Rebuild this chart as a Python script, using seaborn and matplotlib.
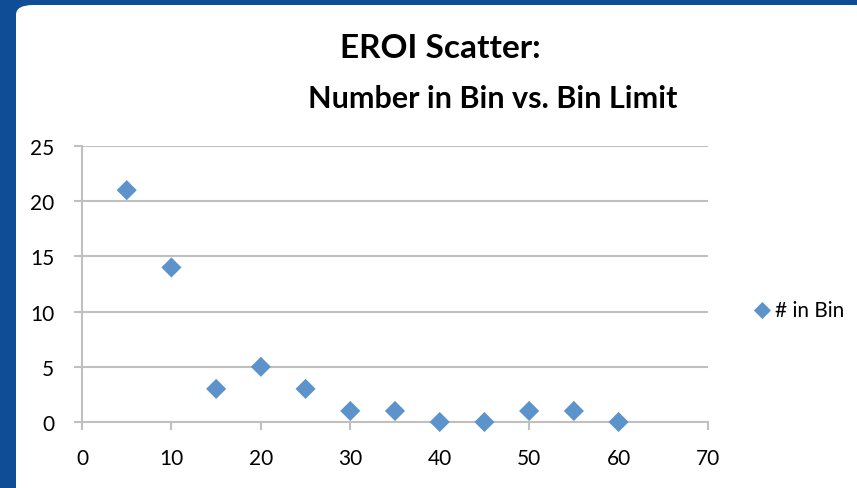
import matplotlib
matplotlib.use("Agg")
import matplotlib.pyplot as plt
import seaborn as sns
import pandas as pd
from matplotlib.patches import FancyBboxPatch

# Data
bin_limit = [5, 10, 15, 20, 25, 30, 35, 40, 45, 50, 55, 60]
num_in_bin = [21, 14, 3, 5, 3, 1, 1, 0, 0, 1, 1, 0]
x_ticks = [0, 10, 20, 30, 40, 50, 60, 70]
y_ticks = [0, 5, 10, 15, 20, 25]
series_name = "# in Bin"

df = pd.DataFrame({"Bin Limit": bin_limit, "Number": num_in_bin})

sns.set_style("white")
plt.rcParams['font.family'] = ['Lato', 'DejaVu Sans']

grid_col = "#c0c0c0"
marker_col = "#5d93cb"

fig = plt.figure(figsize=(8.57, 4.89), dpi=100, facecolor="#0f4e96")

# white chart area on top of the blue slide background
card = FancyBboxPatch((16 / 857, -0.1), 1.2, 1.1 - 6 / 489,
                      boxstyle="round,pad=0,rounding_size=0.02",
                      transform=fig.transFigure, facecolor="white",
                      edgecolor="none", zorder=-10)
fig.patches.append(card)

ax = fig.add_axes([82 / 857, 66 / 489, (708 - 82) / 857, (423 - 147) / 489])
ax.set_facecolor("none")
ax.set_zorder(5)

sns.scatterplot(data=df, x="Bin Limit", y="Number", ax=ax, marker="D",
                s=105, color=marker_col, edgecolor="none", label=series_name,
                zorder=3, clip_on=False)

ax.set_xlim(0, 70)
ax.set_ylim(0, 25)
ax.set_xticks(x_ticks)
ax.set_yticks(y_ticks)
ax.set_xlabel("")
ax.set_ylabel("")

ax.yaxis.grid(True, color=grid_col, linewidth=1.5)
ax.set_axisbelow(True)
for side in ["top", "right"]:
    ax.spines[side].set_visible(False)
for side in ["left", "bottom"]:
    ax.spines[side].set_color(grid_col)
    ax.spines[side].set_linewidth(1.5)

ax.tick_params(axis="both", direction="out", length=6, width=1.5,
               color=grid_col, labelsize=15, labelcolor="black")
ax.tick_params(axis="x", pad=13, bottom=True)
ax.tick_params(axis="y", pad=14, left=True)

leg = ax.legend(loc="center left", bbox_to_anchor=(752 / 857, 178 / 489),
                bbox_transform=fig.transFigure, frameon=False,
                handlelength=1.0, handletextpad=0.1, markerscale=0.85,
                fontsize=15, borderaxespad=0, borderpad=0)
for t in leg.get_texts():
    t.set_color("black")

fig.text(440 / 857, 1 - 48 / 489, "EROI Scatter:", ha="center", va="center",
         fontsize=24, fontweight="bold", color="black")
fig.text(493 / 857, 1 - 99 / 489, "Number in Bin vs. Bin Limit", ha="center",
         va="center", fontsize=22, fontweight="bold", color="black")

fig.savefig("out.png", dpi=100, facecolor=fig.get_facecolor())
